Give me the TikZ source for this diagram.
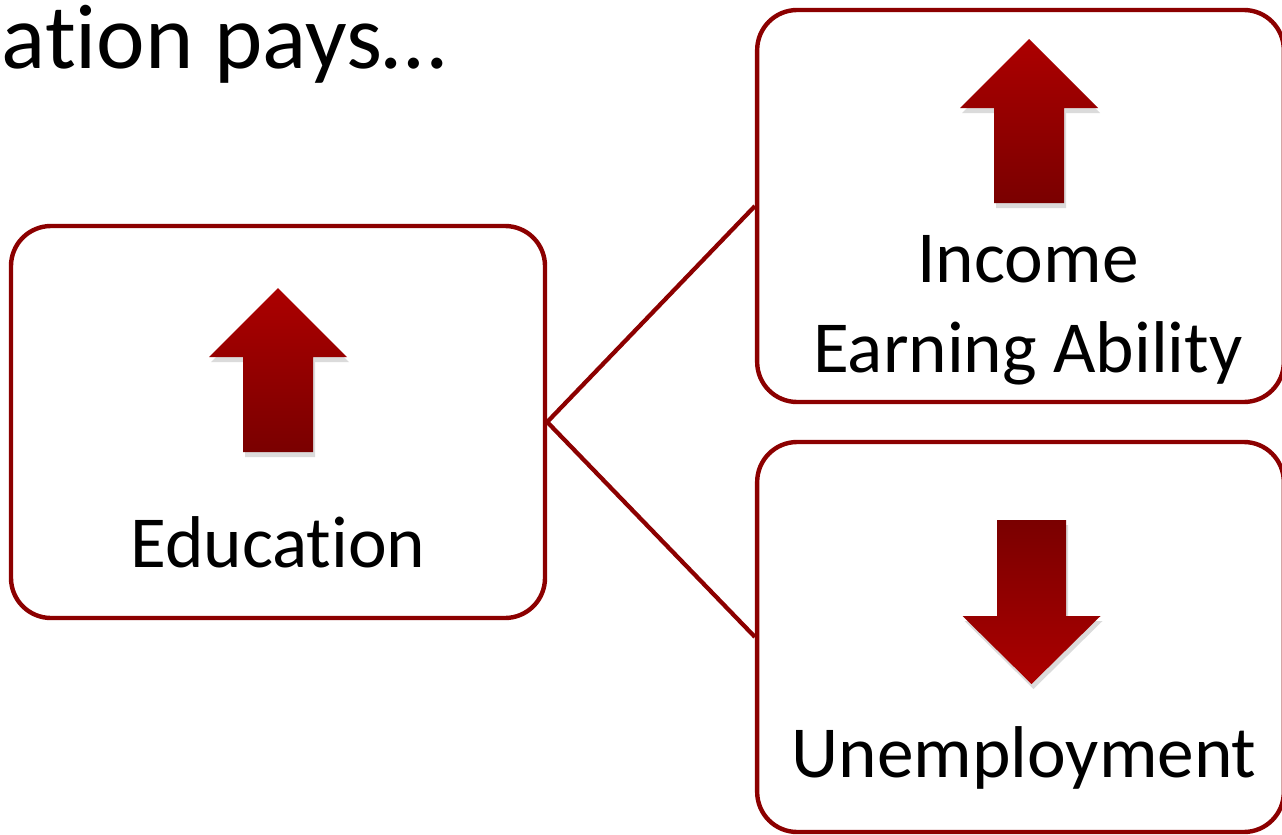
\documentclass[tikz,border=0pt]{standalone}
\usepackage{fontspec}
\setmainfont[Ligatures=NoCommon]{Carlito}
\definecolor{boxred}{RGB}{140,0,0}
\definecolor{arrtop}{RGB}{172,0,0}
\definecolor{arrbot}{RGB}{122,0,0}
\tikzset{
  box/.style={draw=boxred, line width=3.3pt, rounded corners=30pt, fill=white, inner sep=0pt},
  link/.style={draw=boxred, line width=3.2pt},
  lbl/.style={inner sep=0pt, font=\fontsize{55}{66}\selectfont, text=black},
  shadowpath/.style={fill=black, opacity=0.14},
}
\begin{document}
\begin{tikzpicture}[x=0.75pt,y=-0.75pt]
\useasboundingbox (0,0) rectangle (1282,835);
\clip (0,0) rectangle (1282,835);
\fill[white] (0,0) rectangle (1282,835);
% title
\node[inner sep=0pt, anchor=base east, font=\fontsize{69}{80}\selectfont] (title) at (446,68) {Education pays…};
% boxes
\node[box, minimum width=400.5pt, minimum height=294pt] (edu) at (278,422) {};
\node[box, minimum width=395pt, minimum height=294pt] (inc) at (1020.5,206) {};
\node[box, minimum width=395pt, minimum height=292.5pt] (une) at (1020.5,637) {};
% connectors
\draw[link] (edu.east) -- (inc.west);
\draw[link] (edu.east) -- (une.west);
% labels
\node[lbl, anchor=base] (edulbl) at (278,567) {Education};
\node[lbl, anchor=base] (inclblA) at (1028,282) {Income};
\node[lbl, anchor=base] (inclblB) at (1028,372) {Earning Ability};
\node[lbl, anchor=base] (unelbl) at (1024,777) {Unemployment};
% arrows: shadows
\fill[shadowpath] ([shift={(2,5)}]278,288) -- ++(69,69) -- ++(-34,0) -- ++(0,95) -- ++(-70,0) -- ++(0,-95) -- ++(-34,0) -- cycle;
\fill[shadowpath] ([shift={(2,5)}]1029,39) -- ++(69,69) -- ++(-34,0) -- ++(0,95) -- ++(-70,0) -- ++(0,-95) -- ++(-34,0) -- cycle;
\fill[shadowpath] ([shift={(2,5)}]1031.5,684) -- ++(69,-68) -- ++(-34.5,0) -- ++(0,-96) -- ++(-69,0) -- ++(0,96) -- ++(-34.5,0) -- cycle;
% arrows
\shade[top color=arrtop, bottom color=arrbot] (278,288) -- ++(69,69) -- ++(-34,0) -- ++(0,95) -- ++(-70,0) -- ++(0,-95) -- ++(-34,0) -- cycle;
\shade[top color=arrtop, bottom color=arrbot] (1029,39) -- ++(69,69) -- ++(-34,0) -- ++(0,95) -- ++(-70,0) -- ++(0,-95) -- ++(-34,0) -- cycle;
\shade[top color=arrbot, bottom color=arrtop] (1031.5,684) -- ++(69,-68) -- ++(-34.5,0) -- ++(0,-96) -- ++(-69,0) -- ++(0,96) -- ++(-34.5,0) -- cycle;
\end{tikzpicture}
\end{document}
